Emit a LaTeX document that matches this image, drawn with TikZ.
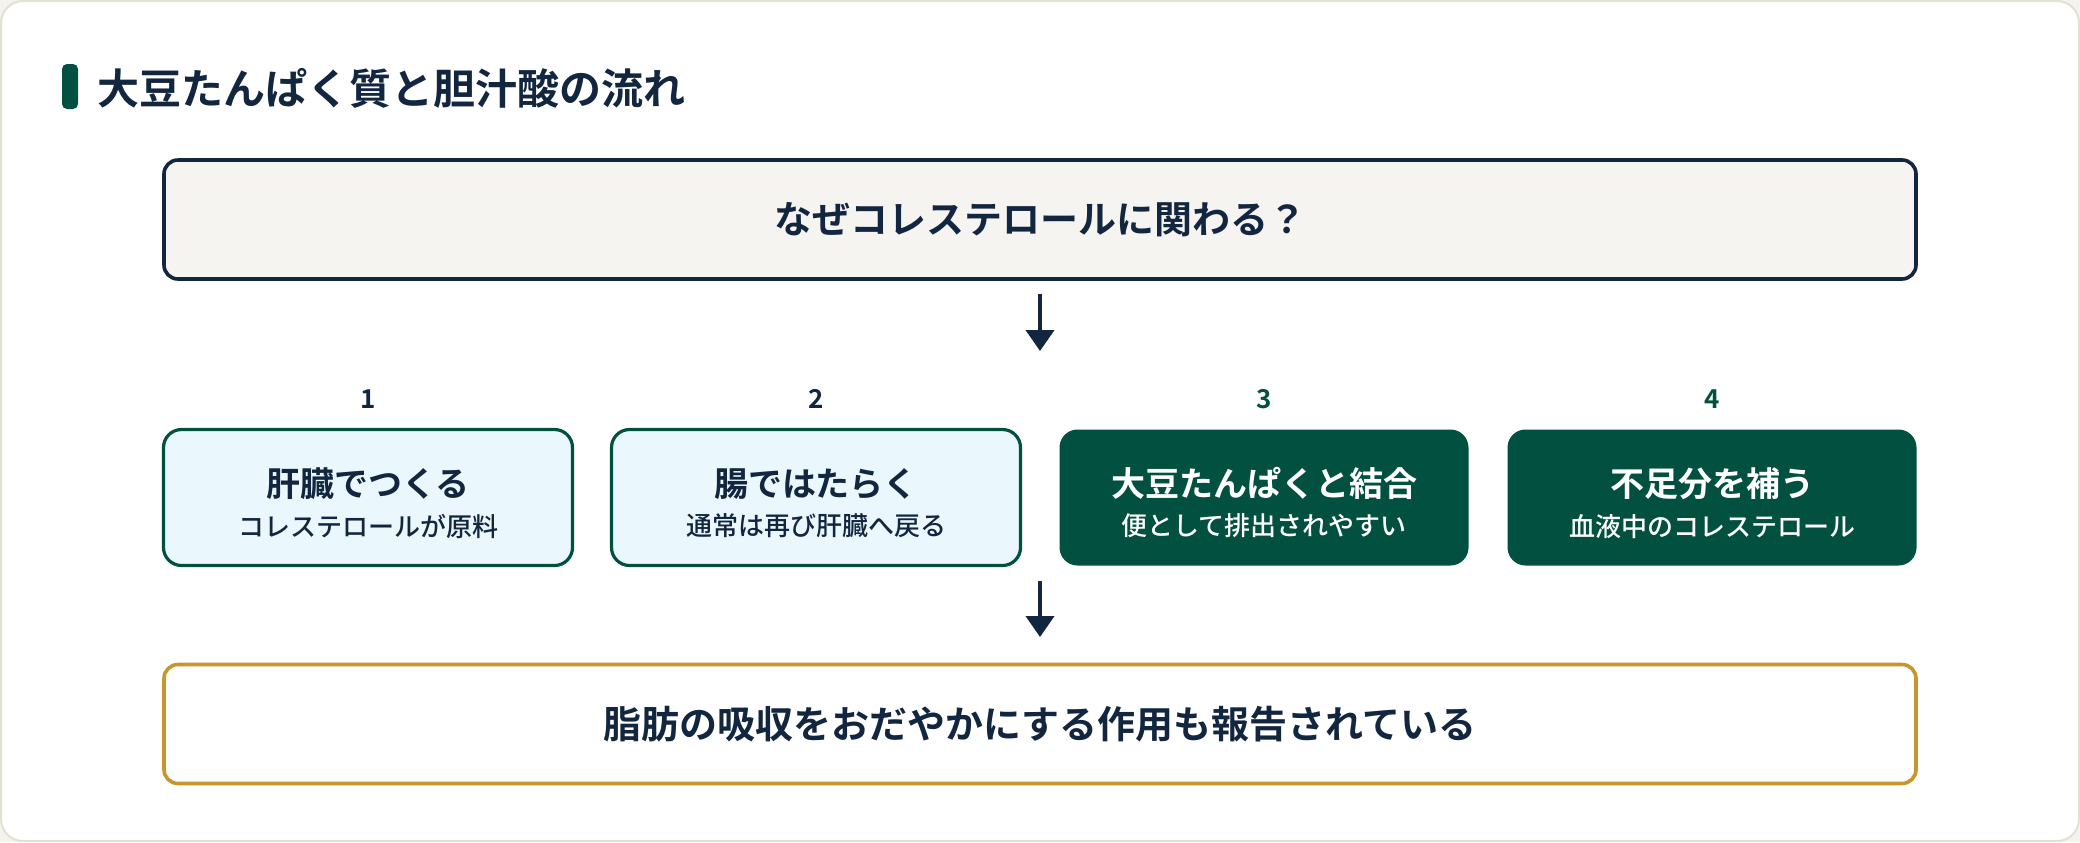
\documentclass[tikz,border=0pt]{standalone}
\usepackage{fontspec}
\setmainfont{Noto Sans CJK JP}[BoldFont=* Bold]
\newfontfamily\mediumjp{Noto Sans CJK JP Medium}
\usetikzlibrary{arrows.meta}
\definecolor{navy}{HTML}{13263F}
\definecolor{pine}{HTML}{02503F}
\definecolor{paleblue}{HTML}{EAF7FC}
\definecolor{paper}{HTML}{F5F4F0}
\definecolor{gold}{HTML}{C9952F}
\definecolor{rim}{HTML}{E3E1D6}
\definecolor{backdrop}{HTML}{F4F3EE}
\newcommand{\twolines}[2]{{\fontsize{17}{20}\selectfont\bfseries\rule{0pt}{20pt}#1}\\[6pt]{\fontsize{13}{16}\selectfont\mediumjp #2}}
\begin{document}
\begin{tikzpicture}[x=0.5pt,y=-0.5pt,
    wide/.style={line width=1.8pt,rounded corners=7pt,minimum width=876pt,minimum height=59.5pt,font=\fontsize{19}{22}\selectfont\bfseries,text=navy},
    stage/.style={rounded corners=9pt,minimum width=204.5pt,minimum height=68pt,align=center},
    light/.style={stage,draw=pine,line width=1.6pt,fill=paleblue,text=navy},
    dark/.style={stage,fill=pine,text=white},
    num/.style={font=\fontsize{13}{15}\selectfont\bfseries},
    flow/.style={-{Triangle[length=10.5pt,width=14pt]},line width=2pt,draw=navy}]
    \fill[backdrop] (0,0) rectangle (2080,842);
    \useasboundingbox (0,0) rectangle (2080,842);
    \draw[rim,line width=1pt,fill=white,rounded corners=11pt] (1,1) rectangle (2079,841);
    \fill[pine,rounded corners=2.5pt] (62,64) rectangle (78,109);
    \node[anchor=west,inner sep=0pt,text=navy,font=\fontsize{21}{24}\selectfont\bfseries] (title) at (97,88) {大豆たんぱく質と胆汁酸の流れ};
    \node[wide,draw=navy,fill=paper] (why) at (1040,219.5) {なぜコレステロールに関わる？};
    \node[num,text=navy] (n1) at (368,399) {1};
    \node[num,text=navy] (n2) at (816,399) {2};
    \node[num,text=pine] (n3) at (1264,399) {3};
    \node[num,text=pine] (n4) at (1712,399) {4};
    \node[light] (liver) at (368,497.5) {\twolines{肝臓でつくる}{コレステロールが原料}};
    \node[light] (gut) at (816,497.5) {\twolines{腸ではたらく}{通常は再び肝臓へ戻る}};
    \node[dark] (soy) at (1264,497.5) {\twolines{大豆たんぱくと結合}{便として排出されやすい}};
    \node[dark] (blood) at (1712,497.5) {\twolines{不足分を補う}{血液中のコレステロール}};
    \node[wide,draw=gold,fill=white] (fat) at (1040,724) {脂肪の吸収をおだやかにする作用も報告されている};
    \coordinate (a1) at (1040,351);
    \coordinate (a2) at (1040,637);
    \draw[flow] ([yshift=-6.5pt]why.south) -- (a1);
    \draw[flow] (1040,581) -- (a2);
\end{tikzpicture}
\end{document}
